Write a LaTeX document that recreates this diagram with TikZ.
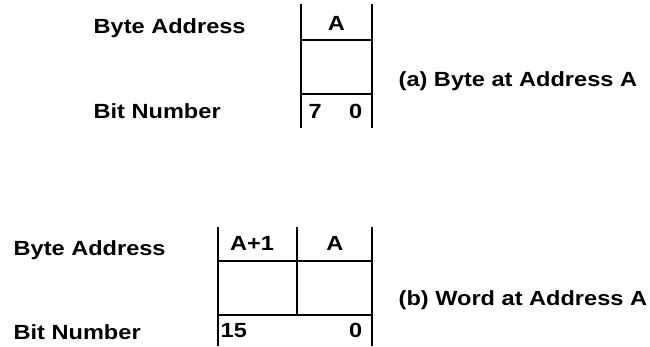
\documentclass[tikz,border=0pt]{standalone}
\usepackage{fontspec}
\setmainfont[FakeStretch=1.15]{Liberation Sans}
\usepackage{tikz}

\begin{document}
\begin{tikzpicture}[x=1pt, y=-1pt, line width=1.3pt,
    lbl/.style={inner sep=0pt, font=\fontsize{20.5}{24}\selectfont\bfseries}]
  \useasboundingbox (0,0) rectangle (650,346);
  % (a) byte
  \draw (301,4) -- (301,128);
  \draw (372,4) -- (372,128);
  \draw (301,40) -- (372,40);
  \draw (301,94) -- (372,94);
  \node[lbl, anchor=base west] (baddra) at (93,33) {Byte Address};
  \node[lbl, anchor=base west] (bitnoa) at (93,118) {Bit Number};
  \node[lbl, anchor=base] (addra) at (336.5,30) {A};
  \node[lbl, anchor=base west] (hia) at (308,118) {7};
  \node[lbl, anchor=base east] (loa) at (363,118) {0};
  \node[lbl, anchor=base west] (capa) at (398,86) {(a) Byte at Address A};
  % (b) word
  \draw (218,227) -- (218,346);
  \draw (372,227) -- (372,346);
  \draw (297,227) -- (297,315);
  \draw (218,261) -- (372,261);
  \draw (218,315) -- (372,315);
  \node[lbl, anchor=base west] (baddrb) at (13,255) {Byte Address};
  \node[lbl, anchor=base west] (bitnob) at (13,339) {Bit Number};
  \node[lbl, anchor=base] (addrhi) at (252,250) {A+1};
  \node[lbl, anchor=base] (addrlo) at (335,250) {A};
  \node[lbl, anchor=base west] (hib) at (220,337) {15};
  \node[lbl, anchor=base east] (lob) at (363,337) {0};
  \node[lbl, anchor=base west] (capb) at (398,305) {(b) Word at Address A};
\end{tikzpicture}
\end{document}
